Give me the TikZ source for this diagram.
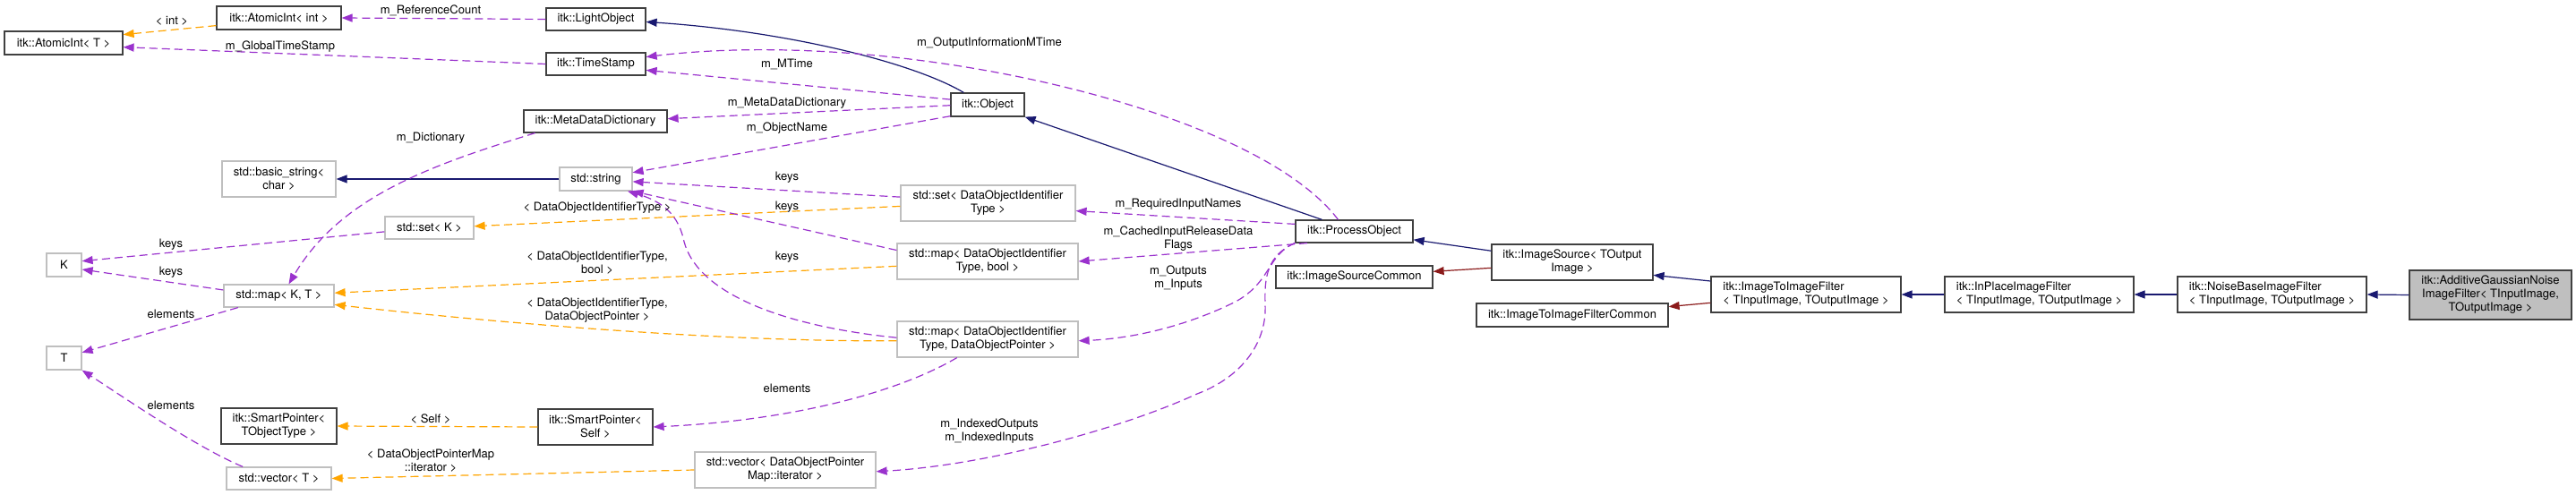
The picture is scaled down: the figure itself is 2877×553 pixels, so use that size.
\documentclass[tikz,border=0pt]{standalone}
\usepackage{fontspec}
\setmainfont{TeX Gyre Heros}
\usepackage{tikz}
\usepackage{xcolor}
\usetikzlibrary{arrows.meta,positioning,calc}
\definecolor{DoxyBlue}{HTML}{191970}
\definecolor{DoxyRed}{HTML}{8B1A1A}
\definecolor{DoxyPurple}{HTML}{9A32CD}
\definecolor{DoxyOrange}{HTML}{FFA500}
\definecolor{DoxyGray}{HTML}{BFBFBF}
\definecolor{DoxyFrame}{HTML}{404040}
\newcommand{\dxfont}{\fontsize{13}{15}\selectfont}
\tikzset{
    % Class box
    classbox/.style={
        draw=DoxyFrame,
        fill=white,
        line width=1.2pt,
        inner sep=0pt,
        align=center,
        font=\dxfont
    },
    % External (std) box
    stdbox/.style={
        classbox,
        draw=DoxyGray
    },
    % The documented class
    focusbox/.style={
        classbox,
        fill=DoxyGray
    },
    % Edge label
    edgelabel/.style={
        inner sep=0pt,
        align=center,
        font=\dxfont
    },
    % Public inheritance
    inheritarrow/.style={
        -{Triangle[length=12pt,width=9pt]},
        line width=1.2pt,
        draw=DoxyBlue
    },
    % Protected inheritance
    protarrow/.style={
        -{Triangle[length=12pt,width=9pt]},
        line width=1.2pt,
        draw=DoxyRed
    },
    % Usage
    usearrow/.style={
        -{Triangle[length=12pt,width=9pt]},
        line width=1.2pt,
        dash pattern=on 9pt off 5pt,
        draw=DoxyPurple
    },
    % Template instance
    templarrow/.style={
        -{Triangle[length=12pt,width=9pt]},
        line width=1.2pt,
        dash pattern=on 9pt off 5pt,
        draw=DoxyOrange
    }
}
\begin{document}
\begin{tikzpicture}[x=1pt, y=-1pt]
        \path[fill=white] (0,0) rectangle (2877,553);

        % Left column
        \node[classbox, minimum width=132pt, minimum height=26pt] (atomT) at (71,48) {itk::AtomicInt< T >};
        \node[classbox, minimum width=139pt, minimum height=26pt] (atomInt) at (311.5,20) {itk::AtomicInt< int >};
        \node[stdbox, minimum width=127pt, minimum height=40pt] (bstr) at (311.5,200) {std::basic\_string<\\char >};
        \node[stdbox, minimum width=99pt, minimum height=25pt] (setK) at (479.5,254.5) {std::set< K >};
        \node[stdbox, minimum width=39pt, minimum height=26pt] (K) at (71.5,296) {K};
        \node[stdbox, minimum width=123pt, minimum height=25pt] (mapKT) at (311.5,330.5) {std::map< K, T >};
        \node[stdbox, minimum width=39pt, minimum height=26pt] (T) at (71.5,400) {T};
        \node[classbox, minimum width=129pt, minimum height=40pt] (spT) at (311.5,476) {itk::SmartPointer<\\TObjectType >};
        \node[stdbox, minimum width=117pt, minimum height=25pt] (vecT) at (311.5,534.5) {std::vector< T >};

        % Middle columns
        \node[classbox, minimum width=111pt, minimum height=25pt] (light) at (665.5,21.5) {itk::LightObject};
        \node[classbox, minimum width=111pt, minimum height=25pt] (stamp) at (665.5,71.5) {itk::TimeStamp};
        \node[classbox, minimum width=160pt, minimum height=25pt] (meta) at (665,135.5) {itk::MetaDataDictionary};
        \node[stdbox, minimum width=81pt, minimum height=26pt] (str) at (665.5,200) {std::string};
        \node[classbox, minimum width=128pt, minimum height=40pt] (spS) at (665,477) {itk::SmartPointer<\\Self >};
        \node[stdbox, minimum width=202pt, minimum height=40pt] (vecP) at (877,525) {std::vector< DataObjectPointer\\Map::iterator >};
        \node[classbox, minimum width=82pt, minimum height=26pt] (obj) at (1103,117) {itk::Object};
        \node[stdbox, minimum width=195pt, minimum height=40pt] (setD) at (1103.5,227) {std::set< DataObjectIdentifier\\Type >};
        \node[stdbox, minimum width=202pt, minimum height=40pt] (mapB) at (1103,292) {std::map< DataObjectIdentifier\\Type, bool >};
        \node[stdbox, minimum width=202pt, minimum height=40pt] (mapP) at (1103,379) {std::map< DataObjectIdentifier\\Type, DataObjectPointer >};

        % Right part
        \node[classbox, minimum width=131pt, minimum height=25pt] (proc) at (1512.5,258.5) {itk::ProcessObject};
        \node[classbox, minimum width=175pt, minimum height=25pt] (srcC) at (1512.5,309.5) {itk::ImageSourceCommon};
        \node[classbox, minimum width=180pt, minimum height=40pt] (src) at (1756,293) {itk::ImageSource< TOutput\\Image >};
        \node[classbox, minimum width=214pt, minimum height=26pt] (i2iC) at (1756,352) {itk::ImageToImageFilterCommon};
        \node[classbox, align=left, minimum width=212pt, minimum height=40pt] (i2i) at (2017,329) {itk::ImageToImageFilter\\< TInputImage, TOutputImage >};
        \node[classbox, align=left, minimum width=211pt, minimum height=40pt] (inpl) at (2277.5,329) {itk::InPlaceImageFilter\\< TInputImage, TOutputImage >};
        \node[classbox, align=left, minimum width=211pt, minimum height=40pt] (noise) at (2537.5,329) {itk::NoiseBaseImageFilter\\< TInputImage, TOutputImage >};
        \node[focusbox, minimum width=181pt, minimum height=55pt] (addg) at (2781.5,329.5) {itk::AdditiveGaussianNoise\\ImageFilter< TInputImage,\\TOutputImage >};

        % Inheritance
        \draw[inheritarrow] (obj.153) .. controls (1020,70) and (880,35) .. (light.357);
        \draw[inheritarrow] (proc.160) -- (obj.south east);
        \draw[inheritarrow] (str.west) -- (bstr.east);
        \draw[inheritarrow] (src.172) -- (proc.352);
        \draw[protarrow] (src.184) -- (srcC.4);
        \draw[inheritarrow] (i2i.172) -- (src.351);
        \draw[protarrow] (i2i.185) -- (i2iC.5);
        \draw[inheritarrow] (inpl.west) -- (i2i.east);
        \draw[inheritarrow] (noise.west) -- (inpl.east);
        \draw[inheritarrow] (addg.west) -- (noise.east);

        % Template instances
        \draw[templarrow] (atomInt.187) -- (atomT.8);
        \draw[templarrow] (setD.182) -- (setK.2);
        \draw[templarrow] (mapB.183) -- (mapKT.3);
        \draw[templarrow] (mapP.181) .. controls (800,382) and (550,360) .. (mapKT.351);
        \draw[templarrow] (spS.west) -- (spT.east);
        \draw[templarrow] (vecP.west) -- (vecT.east);

        % Members
        \draw[usearrow] (light.west) -- (atomInt.east);
        \draw[usearrow] (stamp.west) -- (atomT.356);
        \draw[usearrow] (obj.172) -- (stamp.353);
        \draw[usearrow] (proc.144) .. controls (1400,120) and (1000,30) .. (stamp.8);
        \draw[usearrow] (obj.181) -- (meta.2);
        \draw[usearrow] (obj.197) -- (str.10);
        \draw[usearrow] (meta.191) .. controls (480,185) and (380,220) .. (mapKT.50);
        \draw[usearrow] (setK.185) -- (K.12);
        \draw[usearrow] (mapKT.174) -- (K.346);
        \draw[usearrow] (mapKT.196) -- (T.17);
        \draw[usearrow] (vecT.162) .. controls (220,500) and (140,445) .. (T.south east);
        \draw[usearrow] (setD.176) -- (str.356);
        \draw[usearrow] (mapB.173) -- (str.south east);
        \draw[usearrow] (mapP.179) .. controls (880,365) and (780,330) .. (764,270) .. controls (758,240) and (740,225) .. (str.339);
        \draw[usearrow] (proc.173) -- (setD.355);
        \draw[usearrow] (proc.194) -- (mapB.east);
        \draw[usearrow] (proc.191) .. controls (1415,285) and (1420,315) .. (1380,337) .. controls (1330,362) and (1270,378) .. (mapP.359);
        \draw[usearrow] (proc.south west) .. controls (1415,285) and (1412,310) .. (1413,340) .. controls (1415,380) and (1390,420) .. (1337,440) .. controls (1250,480) and (1100,520) .. (vecP.359);
        \draw[usearrow] (mapP.211) .. controls (1000,440) and (880,470) .. (spS.east);

        % Edge labels
        \node[edgelabel] (lInt) at (192,23) {< int >};
        \node[edgelabel] (lRef) at (481,12) {m\_ReferenceCount};
        \node[edgelabel] (lGlob) at (313,52) {m\_GlobalTimeStamp};
        \node[edgelabel] (lOut) at (1105,48) {m\_OutputInformationMTime};
        \node[edgelabel] (lMT) at (879,72) {m\_MTime};
        \node[edgelabel] (lMeta) at (879,115) {m\_MetaDataDictionary};
        \node[edgelabel] (lName) at (879,143) {m\_ObjectName};
        \node[edgelabel] (lDict) at (481,154) {m\_Dictionary};
        \node[edgelabel] (lKeysA) at (879,198) {keys};
        \node[edgelabel] (lKeysB) at (879,231) {keys};
        \node[edgelabel] (lKeysC) at (879,287) {keys};
        \node[edgelabel] (lSetT) at (667,232) {< DataObjectIdentifierType >};
        \node[edgelabel] (lBoolT) at (667,294) {< DataObjectIdentifierType,\\bool >};
        \node[edgelabel] (lPtrT) at (667,347) {< DataObjectIdentifierType,\\DataObjectPointer >};
        \node[edgelabel] (lKeysK1) at (191,273) {keys};
        \node[edgelabel] (lKeysK2) at (191,304) {keys};
        \node[edgelabel] (lElemA) at (191,351) {elements};
        \node[edgelabel] (lElemB) at (191,453) {elements};
        \node[edgelabel] (lSelf) at (481,468) {< Self >};
        \node[edgelabel] (lIter) at (481,515) {< DataObjectPointerMap\\::iterator >};
        \node[edgelabel] (lElemC) at (879,434) {elements};
        \node[edgelabel] (lReq) at (1316,228) {m\_RequiredInputNames};
        \node[edgelabel] (lCache) at (1316,267) {m\_CachedInputReleaseData\\Flags};
        \node[edgelabel] (lIO) at (1316,311) {m\_Outputs\\m\_Inputs};
        \node[edgelabel] (lIdx) at (1105,482) {m\_IndexedOutputs\\m\_IndexedInputs};
    \end{tikzpicture}
\end{document}
